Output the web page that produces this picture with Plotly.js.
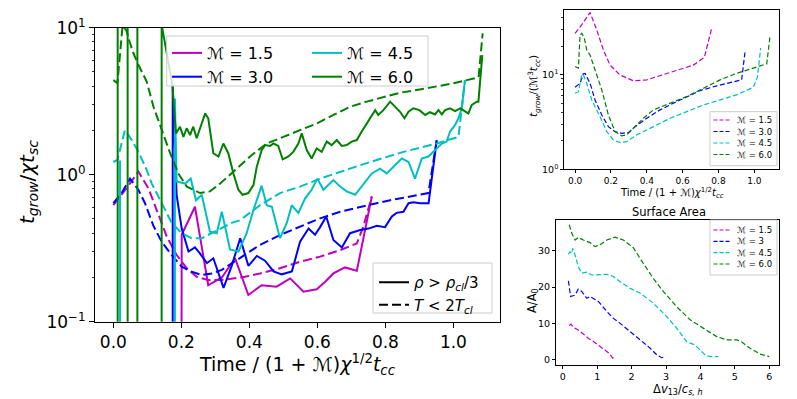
<!DOCTYPE html>
<html>
<head>
<meta charset="utf-8">
<script src="https://cdn.plot.ly/plotly-3.0.1.min.js"></script>
<style>html,body{margin:0;padding:0;background:#fff}</style>
</head>
<body>
<div id="chart" style="width:797px;height:399px"></div>
<script>
// Mach numbers and their matplotlib colours
const machLabels = ['1.5', '3.0', '4.5', '6.0'];
const machColors = ['#bf00bf', '#0000ff', '#00bfbf', '#008000'];

// ---- main panel: t_grow / chi t_sc (solid = rho > rho_cl/3, dashed = T < 2T_cl)
const m15SolidX = [0.199, 0.201, 0.240, 0.279, 0.319, 0.358, 0.397, 0.436, 0.480, 0.520,
                   0.559, 0.598, 0.623, 0.647, 0.681, 0.716, 0.760];
const m15SolidY = [0.001, 0.39, 0.605, 0.177, 0.20, 0.27, 0.152, 0.177, 0.173, 0.197,
                   0.16, 0.166, 0.187, 0.213, 0.234, 0.222, 0.71];
const m15DashX = [0, 0.039, 0.0735, 0.103, 0.1275, 0.157, 0.186, 0.216, 0.245, 0.279,
                  0.319, 0.358, 0.387, 0.431, 0.49, 0.549, 0.608, 0.667, 0.716, 0.735, 0.76];
const m15DashY = [0.62, 0.81, 1.05, 0.81, 0.575, 0.38, 0.284, 0.231, 0.202, 0.192,
                  0.192, 0.197, 0.202, 0.213, 0.231, 0.256, 0.277, 0.307, 0.341, 0.443, 0.71];

const m30SolidX = [0.1745, 0.1745, 0.186, 0.201, 0.221, 0.240, 0.255, 0.275, 0.294, 0.324,
                   0.348, 0.373, 0.397, 0.422, 0.446, 0.471, 0.495, 0.525, 0.549, 0.574,
                   0.593, 0.608, 0.626, 0.647, 0.672, 0.696, 0.726, 0.75, 0.775, 0.799,
                   0.819, 0.833, 0.853, 0.868, 0.882, 0.902, 0.927, 0.936, 0.951];
const m30SolidY = [0.001, 4.1, 0.73, 0.43, 0.30, 0.32, 0.29, 0.25, 0.27, 0.17,
                   0.24, 0.37, 0.24, 0.28, 0.26, 0.22, 0.21, 0.22, 0.35, 0.43,
                   0.39, 0.44, 0.52, 0.36, 0.32, 0.40, 0.42, 0.43, 0.45, 0.44,
                   0.52, 0.55, 0.56, 0.64, 0.65, 0.64, 0.64, 0.92, 1.72];
const m30DashX = [0, 0.0245, 0.049, 0.0735, 0.093, 0.1176, 0.142, 0.1716, 0.201, 0.230,
                  0.26, 0.289, 0.319, 0.348, 0.377, 0.431, 0.49, 0.549, 0.608, 0.667,
                  0.7255, 0.7745, 0.814, 0.8725, 0.9265, 0.951];
const m30DashY = [0.64, 0.75, 0.94, 0.79, 0.64, 0.45, 0.35, 0.284, 0.237, 0.219,
                  0.208, 0.213, 0.225, 0.249, 0.277, 0.333, 0.389, 0.443, 0.505, 0.56,
                  0.605, 0.64, 0.67, 0.71, 0.75, 1.72];

const m45SolidX = [0.0196, 0.0196, null, 0.181, 0.181, 0.186, 0.211, 0.2275, 0.243, 0.26,
                   0.284, 0.304, 0.319, 0.343, 0.368, 0.392, 0.412, 0.436, 0.451, 0.466,
                   0.49, 0.51, 0.5245, 0.544, 0.564, 0.583, 0.6, 0.6176, 0.647, 0.667,
                   0.686, 0.711, 0.7255, 0.74, 0.76, 0.784, 0.804, 0.848, 0.868, 0.887,
                   0.907, 0.9265, 0.951, 0.966, 0.98, 0.99, 1.005, 1.015, 1.0245, 1.034];
const m45SolidY = [1.25, 0.001, null, 0.001, 3.3, 0.90, 0.87, 0.94, 0.67, 0.73,
                   0.41, 0.40, 0.56, 0.31, 0.30, 0.40, 0.575, 0.84, 0.62, 0.605,
                   0.37, 0.47, 0.62, 0.55, 0.69, 0.79, 0.94, 0.79, 0.92, 0.83,
                   0.77, 0.73, 0.81, 0.90, 1.02, 1.10, 1.02, 1.29, 1.22, 0.94,
                   1.29, 1.33, 1.51, 1.63, 1.68, 1.96, 2.18, 2.42, 2.83, 4.4];
const m45DashX = [0, 0.012, 0.034, 0.054, 0.0735, 0.098, 0.113, 0.142, 0.1716, 0.201,
                  0.230, 0.26, 0.299, 0.348, 0.3725, 0.431, 0.49, 0.549, 0.608, 0.667,
                  0.7255, 0.7745, 0.853, 0.951, 1.015, 1.034];
const m45DashY = [1.22, 1.26, 2.01, 1.72, 1.43, 1.08, 0.87, 0.64, 0.47, 0.40,
                  0.37, 0.37, 0.41, 0.47, 0.49, 0.62, 0.75, 0.83, 0.94, 1.05,
                  1.16, 1.26, 1.43, 1.63, 1.81, 4.4];

const m60SolidX = [0.0127, 0.0127, null, 0.042, 0.042, null, 0.0706, 0.0706, null, 0.142,
                   0.142, 0.1735, 0.184, 0.196, 0.206, 0.2157, 0.2255, 0.235, 0.245, 0.255,
                   0.27, 0.279, 0.294, 0.309, 0.3235, 0.338, 0.353, 0.3676, 0.380, 0.397,
                   0.412, 0.4216, 0.436, 0.446, 0.461, 0.4706, 0.485, 0.498, 0.5147, 0.529,
                   0.544, 0.554, 0.5686, 0.583, 0.598, 0.6127, 0.6275, 0.642, 0.657, 0.6716,
                   0.686, 0.701, 0.716, 0.730, 0.745, 0.76, 0.77, 0.779, 0.794, 0.814,
                   0.828, 0.843, 0.856, 0.868, 0.882, 0.9, 0.917, 0.931, 0.946, 0.956,
                   0.966, 0.9755, 0.99, 1.005, 1.02, 1.031, 1.044, 1.054, 1.0686, 1.0735,
                   1.078, 1.085];
const m60SolidY = [0.001, 1000, null, 1000, 0.001, null, 0.001, 1000, null, 0.001,
                   10.5, 4.07, 1.91, 2.12, 1.81, 2.07, 1.86, 2.12, 1.77, 2.07,
                   2.61, 2.42, 1.40, 1.33, 1.63, 1.40, 1.02, 0.79, 0.73, 0.75,
                   0.85, 1.13, 1.47, 1.59, 1.57, 1.63, 1.57, 1.27, 1.33, 1.43,
                   1.63, 1.91, 1.47, 1.29, 1.51, 1.43, 1.68, 1.59, 1.72, 1.57,
                   1.59, 1.68, 1.72, 1.96, 2.23, 2.55, 2.75, 2.55, 2.75, 3.14,
                   2.90, 2.68, 2.42, 2.68, 2.83, 2.75, 2.55, 2.66, 2.57, 2.75,
                   2.57, 2.75, 2.83, 2.71, 2.83, 2.71, 2.61, 2.98, 3.14, 3.14,
                   4.4, 6.5];
const m60DashX = [0, 0.012, 0.027, 0.038, 0.048, 0.059, 0.0735, 0.098, 0.118, 0.142,
                  0.167, 0.191, 0.216, 0.255, 0.284, 0.314, 0.353, 0.402, 0.451, 0.5,
                  0.549, 0.598, 0.647, 0.696, 0.745, 0.794, 0.843, 0.892, 0.941, 0.99,
                  1.039, 1.074, 1.086];
const m60DashY = [4.4, 4.2, 10.3, 9.6, 8.0, 6.7, 5.6, 4.3, 2.9, 2.0,
                  1.4, 1.02, 0.83, 0.75, 0.77, 0.87, 1.05, 1.33, 1.63, 1.81,
                  2.01, 2.23, 2.55, 2.9, 3.14, 3.36, 3.61, 3.77, 3.93, 4.14,
                  4.4, 4.6, 9.15];

// ---- top right: t_grow / (M^3 t_cc)
const tr15X = [0, 0.037, 0.0836, 0.121, 0.158, 0.195, 0.251, 0.325, 0.40, 0.474, 0.567, 0.66, 0.721, 0.743, 0.762];
const tr15Y = [27.3, 33.5, 45.2, 29.6, 18.2, 12.6, 9.9, 8.6, 8.8, 9.7, 11.0, 12.6, 15.2, 23.2, 30.9];
const tr30X = [0, 0.028, 0.046, 0.056, 0.0836, 0.1115, 0.149, 0.186, 0.223, 0.26, 0.297, 0.335, 0.40, 0.474, 0.548, 0.623, 0.697, 0.79, 0.92, 0.929, 0.948];
const tr30Y = [7.35, 8.1, 10.2, 10.3, 8.1, 5.4, 3.75, 2.82, 2.5, 2.4, 2.44, 2.82, 3.46, 4.24, 4.98, 5.86, 6.78, 7.6, 8.64, 8.8, 17.5];
const tr45X = [0, 0.0186, 0.037, 0.046, 0.065, 0.093, 0.139, 0.177, 0.214, 0.251, 0.288, 0.344, 0.437, 0.53, 0.623, 0.716, 0.809, 0.90, 0.994, 1.017, 1.035];
const tr45Y = [6.35, 6.6, 9.9, 10.0, 8.1, 5.4, 3.6, 2.5, 2.04, 1.91, 1.96, 2.31, 2.82, 3.46, 4.06, 4.78, 5.4, 6.1, 7.35, 9.4, 19.0];
const tr60X = [0, 0.0186, 0.028, 0.037, 0.052, 0.065, 0.0836, 0.1115, 0.149, 0.186, 0.223, 0.26, 0.288, 0.325, 0.381, 0.437, 0.53, 0.623, 0.716, 0.809, 0.90, 0.994, 1.069, 1.087];
const tr60Y = [12.2, 11.7, 26.2, 27.3, 24.2, 18.2, 16.1, 11.2, 6.9, 3.75, 2.5, 2.25, 2.31, 2.71, 3.46, 4.24, 4.98, 5.86, 7.17, 8.8, 10.3, 11.7, 13.0, 25.2];

// ---- bottom right: surface area A/A0 vs dv13/c_s,h
const sa15X = [0.19, 0.24, 0.3, 0.45, 0.6, 0.75, 0.9, 1.05, 1.2, 1.35, 1.45, 1.52];
const sa15Y = [9.4, 9.8, 9.0, 8.2, 7.1, 5.9, 5.0, 4.0, 3.0, 1.8, 0.5, 1.0];
const sa30X = [0.165, 0.23, 0.36, 0.45, 0.55, 0.70, 0.79, 0.89, 1.04, 1.28, 1.47, 1.66, 1.95, 2.25, 2.54, 2.73, 2.87, 2.99];
const sa30Y = [21.7, 17.4, 17.8, 19.4, 18.8, 16.9, 17.4, 16.9, 16.0, 13.3, 11.4, 10.1, 7.8, 5.5, 3.2, 1.4, 0.6, 0.9];
const sa45X = [0.165, 0.21, 0.26, 0.29, 0.36, 0.45, 0.55, 0.70, 0.84, 1.08, 1.28, 1.47, 1.66, 1.95, 2.25, 2.63, 3.02, 3.31, 3.60, 3.84, 3.99, 4.13, 4.28, 4.52];
const sa45Y = [29.0, 29.7, 29.2, 30.6, 28.8, 25.6, 23.8, 24.1, 23.3, 23.3, 23.5, 22.9, 21.5, 19.7, 18.3, 15.6, 11.9, 8.7, 5.0, 4.1, 2.7, 1.4, 0.9, 0.9];
const sa60X = [0.19, 0.26, 0.36, 0.45, 0.60, 0.79, 0.94, 1.08, 1.28, 1.52, 1.76, 2.05, 2.34, 2.63, 2.92, 3.31, 3.70, 4.08, 4.47, 4.76, 5.05, 5.19, 5.44, 5.73, 6.0];
const sa60Y = [37.1, 34.8, 32.9, 33.6, 32.9, 32.2, 31.1, 31.6, 32.9, 33.7, 32.9, 30.8, 26.5, 22.4, 18.8, 14.6, 11.0, 8.7, 6.4, 5.5, 5.5, 5.0, 3.2, 1.6, 0.9];

const surfaceLabels = ['1.5', '3', '4.5', '6.0'];
const minorDigits = [2, 3, 4, 5, 6, 7, 8, 9];

// pixel -> paper helpers (figure is 797 x 399, zero margins)
const W = 797, H = 399;
const px = v => v / W;
const py = v => 1 - v / H;
const FONT = 'DejaVu Sans';
const MCAL = '\u2133';

const mainSolid = [[m15SolidX, m15SolidY], [m30SolidX, m30SolidY], [m45SolidX, m45SolidY], [m60SolidX, m60SolidY]];
const mainDash = [[m15DashX, m15DashY], [m30DashX, m30DashY], [m45DashX, m45DashY], [m60DashX, m60DashY]];
const topRight = [[tr15X, tr15Y], [tr30X, tr30Y], [tr45X, tr45Y], [tr60X, tr60Y]];
const surface = [[sa15X, sa15Y], [sa30X, sa30Y], [sa45X, sa45Y], [sa60X, sa60Y]];

const traces = [];
for (let i = 0; i < 4; i++) {
  traces.push({
    x: mainSolid[i][0], y: mainSolid[i][1], type: 'scatter', mode: 'lines',
    xaxis: 'x', yaxis: 'y', line: { color: machColors[i], width: 2 },
    name: MCAL + ' = ' + machLabels[i], legend: i < 2 ? 'legend' : 'legend2',
    connectgaps: false, hoverinfo: 'skip'
  });
  traces.push({
    x: mainDash[i][0], y: mainDash[i][1], type: 'scatter', mode: 'lines',
    xaxis: 'x', yaxis: 'y', line: { color: machColors[i], width: 2, dash: '9px,4px' },
    showlegend: false, hoverinfo: 'skip'
  });
  traces.push({
    x: topRight[i][0], y: topRight[i][1], type: 'scatter', mode: 'lines',
    xaxis: 'x2', yaxis: 'y2', line: { color: machColors[i], width: 1.2, dash: '5px,2.5px' },
    showlegend: false, hoverinfo: 'skip'
  });
  traces.push({
    x: surface[i][0], y: surface[i][1], type: 'scatter', mode: 'lines',
    xaxis: 'x3', yaxis: 'y3', line: { color: machColors[i], width: 1.2, dash: '5px,2.5px' },
    showlegend: false, hoverinfo: 'skip'
  });
}
// line-style key for the main panel
traces.push({ x: [null], y: [null], type: 'scatter', mode: 'lines', xaxis: 'x', yaxis: 'y',
  line: { color: 'black', width: 2 }, name: '<i>ρ</i> &gt; <i>ρ</i><sub><i>cl</i></sub>/3', legend: 'legend3' });
traces.push({ x: [null], y: [null], type: 'scatter', mode: 'lines', xaxis: 'x', yaxis: 'y',
  line: { color: 'black', width: 2, dash: '9px,4px' }, name: '<i>T</i> &lt; 2<i>T</i><sub><i>cl</i></sub>', legend: 'legend3' });

const frame = { showline: true, mirror: true, linecolor: 'black', linewidth: 1, showgrid: false,
  zeroline: false, ticks: 'outside', tickcolor: 'black', tickwidth: 1 };
const minorMain = minorDigits.map(d => d * 0.1).concat(minorDigits);
const minorTop = minorDigits.concat([20, 30, 40]);

// annotations: axis titles, panel title and the hand-made keys of the small panels
const annotations = [];
function ann(text, x, y, size, extra) {
  annotations.push(Object.assign({ text: text, x: px(x), y: py(y), xref: 'paper', yref: 'paper',
    xanchor: 'center', yanchor: 'middle', showarrow: false,
    font: { family: FONT, size: size, color: 'black' } }, extra || {}));
}
const timeTitle = 'Time / (1 + ' + MCAL + ')<i>χ</i><sup>1/2</sup><i>t</i><sub><i>cc</i></sub>';
ann('<i>t</i><sub><i>grow</i></sub>/<i>χt</i><sub><i>sc</i></sub>', 28, 182, 20, { textangle: -90 });
ann(timeTitle, 297, 364, 19);
ann('<i>t</i><sub><i>grow</i></sub>/(' + MCAL + '<sup>3</sup><i>t</i><sub><i>cc</i></sub>)', 534, 86, 10.5, { textangle: -90 });
ann(timeTitle, 672, 193, 10);
ann('Surface Area', 669, 212, 11.5);
ann('A/A<sub>0</sub>', 532, 301, 11.5, { textangle: -90 });
ann('Δ<i>v</i><sub>13</sub>/<i>c</i><sub><i>s, h</i></sub>', 678, 389, 11.5);

const shapes = [
  { type: 'rect', xref: 'paper', yref: 'paper', x0: px(166.7), x1: px(428), y0: py(86), y1: py(36),
    fillcolor: 'rgba(255,255,255,0.8)', line: { color: '#cccccc', width: 1 }, layer: 'above' },
  { type: 'rect', xref: 'paper', yref: 'paper', x0: px(373), x1: px(492), y0: py(313), y1: py(263),
    fillcolor: 'rgba(255,255,255,0.8)', line: { color: '#cccccc', width: 1 }, layer: 'above' },
  { type: 'rect', xref: 'paper', yref: 'paper', x0: px(710), x1: px(777), y0: py(165.7), y1: py(111.7),
    fillcolor: 'rgba(255,255,255,0.8)', line: { color: '#cccccc', width: 1 }, layer: 'above' },
  { type: 'rect', xref: 'paper', yref: 'paper', x0: px(710), x1: px(777), y0: py(275), y1: py(220),
    fillcolor: 'rgba(255,255,255,0.8)', line: { color: '#cccccc', width: 1 }, layer: 'above' }
];
const keyRowsTop = [120, 131.5, 143, 154.5];
const keyRowsBottom = [230, 241.3, 252.7, 264];
for (let i = 0; i < 4; i++) {
  [[keyRowsTop[i], machLabels[i]], [keyRowsBottom[i], surfaceLabels[i]]].forEach(([ry, lab]) => {
    shapes.push({ type: 'line', xref: 'paper', yref: 'paper', x0: px(713.5), x1: px(731.5), y0: py(ry), y1: py(ry),
      line: { color: machColors[i], width: 1.2, dash: '4px,2px' }, layer: 'above' });
    ann(MCAL + ' = ' + lab, 735, ry, 8.5, { xanchor: 'left' });
  });
}

const legendBase = { bgcolor: 'rgba(0,0,0,0)', borderwidth: 0, xanchor: 'left', yanchor: 'top',
  font: { family: FONT, size: 16, color: 'black' }, tracegroupgap: 0 };

const layout = {
  width: W, height: H,
  margin: { l: 0, r: 0, t: 0, b: 0 },
  paper_bgcolor: 'white', plot_bgcolor: 'white',
  font: { family: FONT, color: 'black' },
  xaxis: Object.assign({}, frame, { domain: [px(95), px(500)], range: [-0.054, 1.137], anchor: 'y',
    tick0: 0, dtick: 0.2, tickformat: '.1f', ticklen: 5, tickfont: { size: 17 } }),
  yaxis: Object.assign({}, frame, { domain: [py(321.7), py(27.7)], type: 'log', range: [-1, 1], anchor: 'x',
    tickmode: 'array', tickvals: [0.1, 1, 10], ticklen: 5,
    ticktext: ['10<sup>−1</sup>', '10<sup>0</sup>', '10<sup>1</sup>'], tickfont: { size: 17 },
    minor: { tickmode: 'array', tickvals: minorMain, ticks: 'outside', ticklen: 2.5, tickcolor: 'black', tickwidth: 0.8 } }),
  xaxis2: Object.assign({}, frame, { domain: [px(564.3), px(779.3)], range: [-0.06, 1.139], anchor: 'y2',
    tick0: 0, dtick: 0.2, tickformat: '.1f', ticklen: 3, tickfont: { size: 9 } }),
  yaxis2: Object.assign({}, frame, { domain: [py(169.3), py(10)], type: 'log', range: [0, 1.682], anchor: 'x2',
    tickmode: 'array', tickvals: [1, 10], ticktext: ['10<sup>0</sup>', '10<sup>1</sup>'], ticklen: 3,
    tickfont: { size: 9.5 },
    minor: { tickmode: 'array', tickvals: minorTop, ticks: 'outside', ticklen: 2, tickcolor: 'black', tickwidth: 0.8 } }),
  xaxis3: Object.assign({}, frame, { domain: [px(556), px(779.3)], range: [-0.195, 6.29], anchor: 'y3',
    tick0: 0, dtick: 1, ticklen: 3, tickfont: { size: 9.5 } }),
  yaxis3: Object.assign({}, frame, { domain: [py(365), py(220)], range: [-1.4, 38.4], anchor: 'x3',
    tickmode: 'array', tickvals: [0, 10, 20, 30], ticklen: 3, tickfont: { size: 9.5 } }),
  legend: Object.assign({}, legendBase, { x: px(167), y: py(36) }),
  legend2: Object.assign({}, legendBase, { x: px(307), y: py(36) }),
  legend3: Object.assign({}, legendBase, { x: px(374), y: py(266), font: { family: FONT, size: 15, color: 'black' } }),
  shapes: shapes,
  annotations: annotations,
  showlegend: true
};

Plotly.newPlot('chart', traces, layout, { staticPlot: true });
</script>
</body>
</html>
